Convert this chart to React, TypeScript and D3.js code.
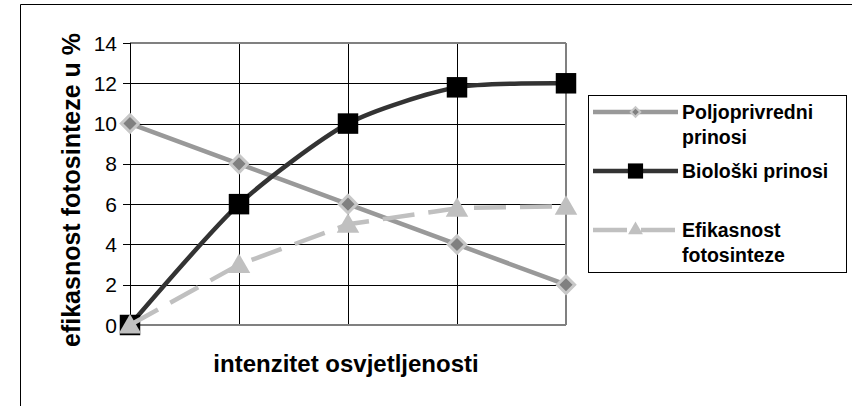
import * as d3 from 'd3';

// categories have no labels in the original chart
const categories = ['1', '2', '3', '4', '5'];
const poljoprivredni = [10, 8, 6, 4, 2];
const bioloski = [0, 6, 10, 11.8, 12];
const efikasnost = [0, 3, 5, 5.8, 5.9];
const yTicks = [0, 2, 4, 6, 8, 10, 12, 14];
const yTitle = 'efikasnost fotosinteze u %';
const xTitle = 'intenzitet osvjetljenosti';
const legendLabels = [['Poljoprivredni', 'prinosi'], ['Biološki prinosi'], ['Efikasnost', 'fotosinteze']];

const W = 852;
const H = 406;
const font = '"Liberation Sans", Arial, sans-serif';

export default function App() {
  const x = d3.scalePoint<string>().domain(categories).range([130, 566]);
  const y = d3.scaleLinear().domain([0, 14]).range([325, 43]);

  const straight = d3.line<number>().x((_, i) => x(categories[i])!).y((d) => y(d));
  const smooth = d3
    .line<number>()
    .x((_, i) => x(categories[i])!)
    .y((d) => y(d))
    .curve(d3.curveCardinal.tension(0.3));

  const diamond = d3.symbol(d3.symbolSquare, 150)()!;
  const square = d3.symbol(d3.symbolSquare, 420)()!;
  const triangle = d3.symbol(d3.symbolTriangle, 220)()!;
  const squareSmall = d3.symbol(d3.symbolSquare, 230)()!;
  const diamondSmall = d3.symbol(d3.symbolSquare, 45)()!;
  const triangleSmall = d3.symbol(d3.symbolTriangle, 95)()!;

  const [x0, x1] = x.range();
  const lx0 = 593;
  const lx1 = 678;
  const lmid = (lx0 + lx1) / 2;

  return (
    <svg
      width={W}
      height={H}
      style={{ position: 'absolute', left: 0, top: 0, background: '#fff' }}
      fontFamily={font}
    >
      {/* outer chart frame (only left and top visible) */}
      <line x1={20.5} y1={4.5} x2={W} y2={4.5} stroke="#000" />
      <line x1={20.5} y1={4.5} x2={20.5} y2={H} stroke="#000" />

      {/* horizontal gridlines */}
      {yTicks.slice(1, -1).map((t) => (
        <line key={t} x1={x0} x2={x1} y1={Math.round(y(t)) + 0.5} y2={Math.round(y(t)) + 0.5} stroke="#000" />
      ))}
      {/* vertical gridlines */}
      {categories.slice(1, -1).map((c) => (
        <line key={c} x1={x(c)! + 0.5} x2={x(c)! + 0.5} y1={y(14)} y2={y(0)} stroke="#000" />
      ))}
      {/* plot border */}
      <line x1={x0} x2={x1} y1={y(14)} y2={y(14)} stroke="#808080" strokeWidth={2} />
      <line x1={x1} x2={x1} y1={y(14)} y2={y(0)} stroke="#808080" strokeWidth={2} />
      <line x1={x0} x2={x1} y1={y(0)} y2={y(0)} stroke="#808080" strokeWidth={2} />

      {/* y axis */}
      <line x1={x0 + 0.5} x2={x0 + 0.5} y1={y(14)} y2={y(0)} stroke="#000" />
      {yTicks.map((t) => (
        <g key={t}>
          <line x1={123} x2={x0} y1={Math.round(y(t)) + 0.5} y2={Math.round(y(t)) + 0.5} stroke="#000" />
          <text x={117} y={y(t) + 7.5} textAnchor="end" fontSize={21} fill="#000">
            {t}
          </text>
        </g>
      ))}

      {/* series 1 */}
      <path d={straight(poljoprivredni)!} fill="none" stroke="#999" strokeWidth={4.5} />
      {poljoprivredni.map((v, i) => (
        <path
          key={i}
          d={diamond}
          transform={`translate(${x(categories[i])},${y(v)}) rotate(45)`}
          fill="#808080"
          stroke="#c8c8c8"
          strokeWidth={3}
        />
      ))}

      {/* series 2 */}
      <path d={smooth(bioloski)!} fill="none" stroke="#333" strokeWidth={4.5} />
      {bioloski.map((v, i) => (
        <path key={i} d={square} transform={`translate(${x(categories[i])},${y(v)})`} fill="#000" />
      ))}

      {/* series 3 */}
      <path d={straight(efikasnost)!} fill="none" stroke="#c0c0c0" strokeWidth={4.5} strokeDasharray="32 14" />
      {efikasnost.map((v, i) => (
        <path key={i} d={triangle} transform={`translate(${x(categories[i])},${y(v) + 2})`} fill="#c0c0c0" />
      ))}

      {/* axis titles */}
      <text
        transform={`translate(80,190) rotate(-90)`}
        textAnchor="middle"
        fontSize={25}
        fontWeight="bold"
        fill="#000"
      >
        {yTitle}
      </text>
      <text x={346} y={372} textAnchor="middle" fontSize={24} fontWeight="bold" fill="#000">
        {xTitle}
      </text>

      {/* legend */}
      <rect x={588.5} y={95.5} width={258} height={177} fill="#fff" stroke="#000" />
      <line x1={lx0} x2={lx1} y1={112} y2={112} stroke="#999" strokeWidth={4.5} />
      <path d={diamondSmall} transform={`translate(${lmid},112) rotate(45)`} fill="#808080" stroke="#c8c8c8" strokeWidth={2} />
      <line x1={lx0} x2={lx1} y1={171} y2={171} stroke="#333" strokeWidth={4.5} />
      <path d={squareSmall} transform={`translate(${lmid},171)`} fill="#000" />
      <line x1={lx0} x2={lx1} y1={230} y2={230} stroke="#c0c0c0" strokeWidth={4.5} strokeDasharray="34 14" />
      <path d={triangleSmall} transform={`translate(${lmid},230)`} fill="#c0c0c0" />
      {legendLabels.map((lines, i) => (
        <text key={i} x={682} y={[119, 178, 237][i]} fontSize={19.5} fontWeight="bold" fill="#000">
          {lines.map((l, j) => (
            <tspan key={j} x={682} dy={j === 0 ? 0 : 25}>
              {l}
            </tspan>
          ))}
        </text>
      ))}
    </svg>
  );
}
